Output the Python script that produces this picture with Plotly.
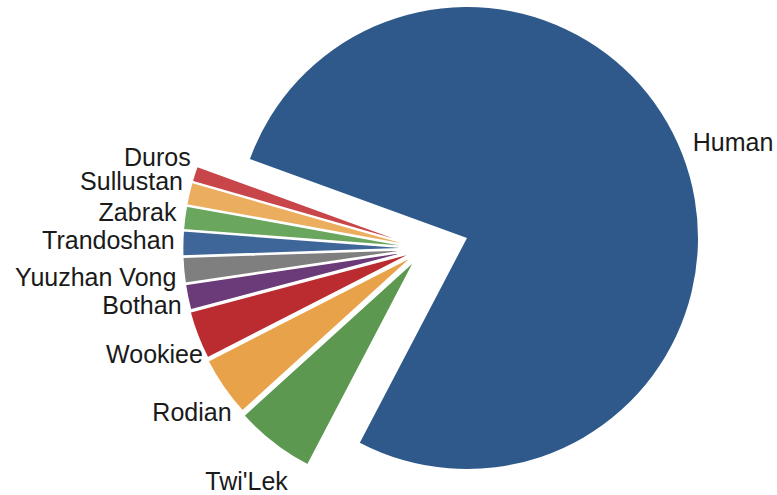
import plotly.graph_objects as go

species = ["Human", "Twi'Lek", "Rodian", "Wookiee", "Bothan", "Yuuzhan Vong",
           "Trandoshan", "Zabrak", "Sullustan", "Duros"]
share = [77.2, 5.6, 4.2, 3.4, 1.8, 1.8, 1.75, 1.65, 1.6, 1.1]
colors = ["#2E598A", "#5D9850", "#E8A24A", "#BA2C30", "#6B3A78", "#7F7F7F",
          "#3F6698", "#6AA65E", "#EBAE5F", "#C8464A"]
pulls = [0, 0.065, 0.055, 0.05, 0.045, 0.045, 0.045, 0.045, 0.045, 0.045]

W, H = 777, 495
R = 231
CLEAR = "rgba(0,0,0,0)"
FONT = dict(family="Liberation Sans, Arial, sans-serif", size=25, color="#1a1a1a")
N = len(species)
big = [i == 0 for i in range(N)]


def clamp(v):
    return min(1.0, max(0.0, v))


def dom(cx, cy, half):
    return dict(x=[clamp((cx - half) / W), clamp((cx + half) / W)],
                y=[clamp(1 - (cy + half) / H), clamp(1 - (cy - half) / H)])


def base(**kw):
    return go.Pie(labels=species, values=share, sort=False, direction="clockwise",
                  automargin=False, hoverinfo="skip", showlegend=False, **kw)


def label_trace(show, cx, cy, half, rot=-70):
    return base(rotation=rot,
                marker=dict(colors=[CLEAR] * N, line=dict(width=[0] * N)),
                text=[s if s in show else "" for s in species],
                textinfo="text", textposition="outside", outsidetextfont=FONT,
                domain=dom(cx, cy, half))


# Human slice (not pulled)
trace_human = base(
    rotation=-70,
    marker=dict(colors=[c if b else CLEAR for c, b in zip(colors, big)],
                line=dict(color="white", width=[0] * N)),
    textinfo="none", domain=dom(467, 238, R),
)

# Small slices, exploded away from the Human slice
maxp = max(pulls)
trace_small = base(
    rotation=-70,
    marker=dict(colors=[CLEAR if b else c for c, b in zip(colors, big)],
                line=dict(color="white", width=[0 if b else 1.5 for b in big])),
    pull=pulls, textinfo="none", domain=dom(424, 248.5, R * (1 + maxp)),
)

# Outside labels, spread out like the reference
left_rot = {"Duros": -67.1, "Sullustan": -68.1, "Zabrak": -69.3,
            "Trandoshan": -69.8, "Yuuzhan Vong": -71.9, "Bothan": -72.1}
labels = [label_trace({"Human"}, 467, 238, 238, rot=-72)]
labels += [label_trace({name}, 427.5, 246.2, 246, rot=rot) for name, rot in left_rot.items()]
labels += [
    label_trace({"Wookiee"}, 394.4, 289.8, 195, rot=-67.9),
    label_trace({"Rodian"}, 394.4, 289.8, 195, rot=-72.3),
    label_trace({"Twi'Lek"}, 344.3, 408.6, 80),
]

fig = go.Figure([trace_human, trace_small] + labels)
fig.update_layout(width=W, height=H, margin=dict(l=0, r=0, t=0, b=0, autoexpand=False),
                  paper_bgcolor="white", plot_bgcolor="white", showlegend=False)
fig.write_html("out.html")
